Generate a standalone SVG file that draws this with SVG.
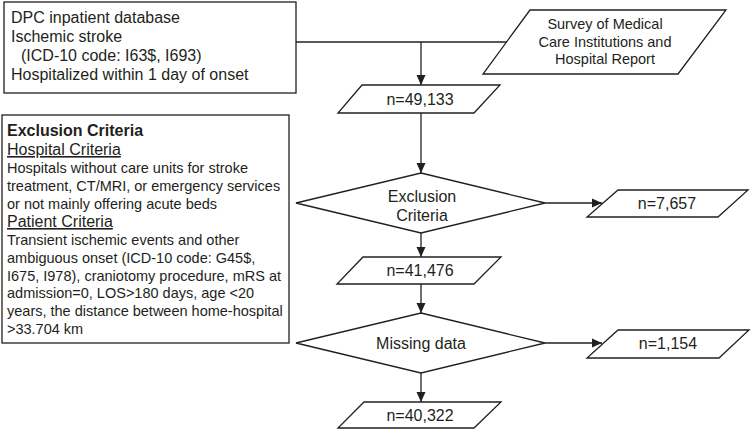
<svg xmlns="http://www.w3.org/2000/svg" width="752" height="430" viewBox="0 0 752 430">
<style>
.s{fill:#fff;stroke:#231f20;stroke-width:1.3}
text{font-family:"Liberation Sans",Arial,sans-serif;fill:#231f20}
.t16{font-size:16px}
.t14{font-size:14.5px}
.c{text-anchor:middle}
.b{font-weight:bold}
.u{text-decoration:underline}
.ln{fill:none;stroke:#231f20;stroke-width:1.3}
</style>
<defs>
<marker id="ah" markerUnits="userSpaceOnUse" markerWidth="11" markerHeight="10" refX="10" refY="5" orient="auto">
<path d="M0,0.5 L10,5 L0,9.5 z" fill="#231f20"/>
</marker>
</defs>
<g id="connectors">
<path class="ln" d="M296,42 H507"/>
<path class="ln" d="M421,42 V85" marker-end="url(#ah)"/>
<path class="ln" d="M421,113 V173" marker-end="url(#ah)"/>
<path class="ln" d="M421,233 V257" marker-end="url(#ah)"/>
<path class="ln" d="M421,284 V313" marker-end="url(#ah)"/>
<path class="ln" d="M421,373 V402" marker-end="url(#ah)"/>
<path class="ln" d="M545,203 H602" marker-end="url(#ah)"/>
<path class="ln" d="M545,343 H602" marker-end="url(#ah)"/>
</g>
<g id="dpc">
<rect class="s" x="4" y="2" width="292" height="91"/>
<text class="t16" x="11" y="23">DPC inpatient database</text>
<text class="t16" x="11" y="42">Ischemic stroke</text>
<text class="t16" x="21" y="61">(ICD-10 code: I63$, I693)</text>
<text class="t16" x="11" y="80">Hospitalized within 1 day of onset</text>
</g>
<g id="survey">
<polygon class="s" points="530,10 726,10 678,74 483,74"/>
<text class="t14 c" x="605" y="29">Survey of Medical</text>
<text class="t14 c" x="605" y="46.5">Care Institutions and</text>
<text class="t14 c" x="605" y="64">Hospital Report</text>
</g>
<g id="n49133">
<polygon class="s" points="362,85 500,85 474,113 338,113"/>
<text class="t16 c" x="420" y="105">n=49,133</text>
</g>
<g id="exclusion-box">
<rect class="s" x="2" y="115" width="287" height="228"/>
<text class="t16 b" x="7" y="136">Exclusion Criteria</text>
<text class="t16 u" x="7" y="155">Hospital Criteria</text>
<text class="t14" x="7" y="173">Hospitals without care units for stroke</text>
<text class="t14" x="7" y="191">treatment, CT/MRI, or emergency services</text>
<text class="t14" x="7" y="208.5">or not mainly offering acute beds</text>
<text class="t16 u" x="7" y="227">Patient Criteria</text>
<text class="t14" x="7" y="244.5">Transient ischemic events and other</text>
<text class="t14" x="7" y="262.5">ambiguous onset (ICD-10 code: G45$,</text>
<text class="t14" x="7" y="280.5">I675, I978), craniotomy procedure, mRS at</text>
<text class="t14" x="7" y="298">admission=0, LOS&gt;180 days, age &lt;20</text>
<text class="t14" x="7" y="316">years, the distance between home-hospital</text>
<text class="t14" x="7" y="333.5">&gt;33.704 km</text>
</g>
<g id="excl-diamond">
<polygon class="s" points="421,173 545,203 421,233 296,203"/>
<text class="t16 c" x="422" y="202">Exclusion</text>
<text class="t16 c" x="422" y="221">Criteria</text>
</g>
<g id="n7657">
<polygon class="s" points="618,190 748,190 718,217 587,217"/>
<text class="t16 c" x="667" y="209">n=7,657</text>
</g>
<g id="n41476">
<polygon class="s" points="363,257 501,257 474,284 337,284"/>
<text class="t16 c" x="420" y="276">n=41,476</text>
</g>
<g id="missing-diamond">
<polygon class="s" points="421,313 545,343 421,373 296,343"/>
<text class="t16 c" x="421" y="349">Missing data</text>
</g>
<g id="n1154">
<polygon class="s" points="618,330 749,330 719,358 587,358"/>
<text class="t16 c" x="668" y="349">n=1,154</text>
</g>
<g id="n40322">
<polygon class="s" points="364,402 501,402 474,428 338,428"/>
<text class="t16 c" x="420" y="421">n=40,322</text>
</g>
</svg>
